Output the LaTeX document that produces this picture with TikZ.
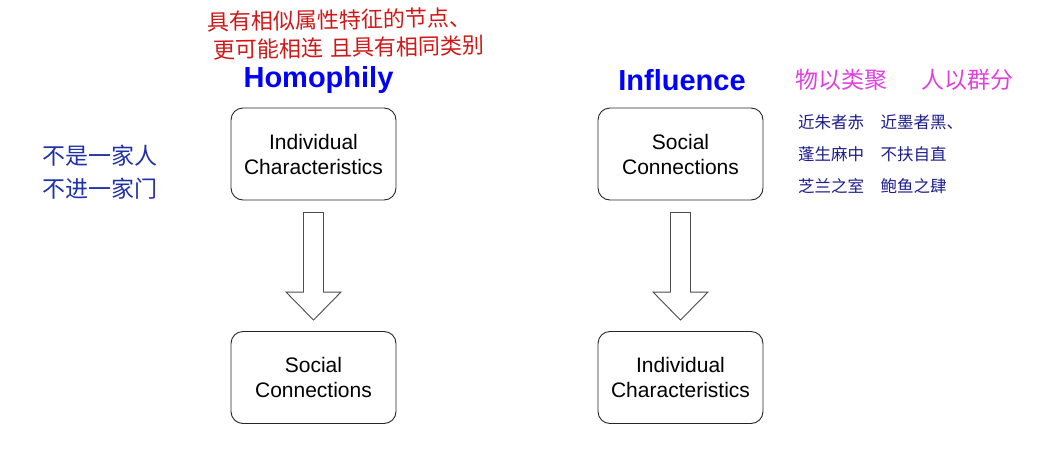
\documentclass[tikz,border=0pt]{standalone}
\usepackage{fontspec}
\setmainfont{Liberation Sans}
\newfontfamily\cjk{Noto Sans CJK SC}
\usepackage{tikz}
\usetikzlibrary{positioning,calc}
\definecolor{bleutitre}{HTML}{0000FF}
\definecolor{rouge}{HTML}{D01818}
\definecolor{magenta}{HTML}{E040E0}
\definecolor{marine}{HTML}{1C1C8C}
\definecolor{bleunote}{HTML}{2030A8}
\tikzset{facteur/.style={
    draw=black!85,
    line width=0.9pt,
    rounded corners=12pt,
    minimum width=165pt,
    minimum height=92pt,
    align=center,
    font=\fontsize{21}{25}\selectfont}}
\tikzset{titre/.style={
    text=bleutitre,
    font=\fontsize{29}{32}\selectfont\bfseries}}
\tikzset{fleche/.style={
    draw=black!70,
    line width=0.9pt,
    fill=white}}
\tikzset{note/.style={
    anchor=west,
    align=left,
    inner sep=0pt}}
\newcommand{\blocfleche}[2]{
  \path[fleche] ($(#1.south)+(-10,12)$) -- ($(#1.south)+(10,12)$)
    -- ($(#2.north)+(10,-39)$) -- ($(#2.north)+(27.5,-39)$)
    -- ($(#2.north)+(0,-11)$) -- ($(#2.north)+(-27.5,-39)$)
    -- ($(#2.north)+(-10,-39)$) -- cycle;}

\begin{document}
\begin{tikzpicture}[x=1pt,y=-1pt]
\useasboundingbox (0,0) rectangle (1042,461);

% homophily
\node[titre] (homophily) at (318.5,80) {Homophily};
\node[facteur] (hindiv) at (313.5,154) {Individual\\Characteristics};
\node[facteur] (hsocial) at (313.5,377.5) {Social\\Connections};
\blocfleche{hindiv}{hsocial}

% influence
\node[titre] (influence) at (682,80) {Influence};
\node[facteur] (isocial) at (680.5,154) {Social\\Connections};
\node[facteur] (iindiv) at (680.5,377.5) {Individual\\Characteristics};
\blocfleche{isocial}{iindiv}

% notes
\node[note, rotate=1, text=rouge, font=\cjk\fontsize{22}{28}\selectfont] (rouge) at (207,36) {具有相似属性特征的节点、\\\hspace{6pt}更可能相连\hspace{0.3em}且具有相同类别};

\node[note, text=bleunote, font=\cjk\fontsize{23}{33}\selectfont] (famille) at (42,172) {不是一家人\\不进一家门};

\node[note, text=magenta, font=\cjk\fontsize{23}{26}\selectfont] (proverbe) at (795,80) {物以类聚\hspace{1.5em}人以群分};
\node[note, text=marine, font=\cjk\fontsize{16.5}{32}\selectfont] (chengyu) at (798,154) {近朱者赤\hspace{1em}近墨者黑、\\蓬生麻中\hspace{1em}不扶自直\\芝兰之室\hspace{1em}鲍鱼之肆};
\end{tikzpicture}
\end{document}
